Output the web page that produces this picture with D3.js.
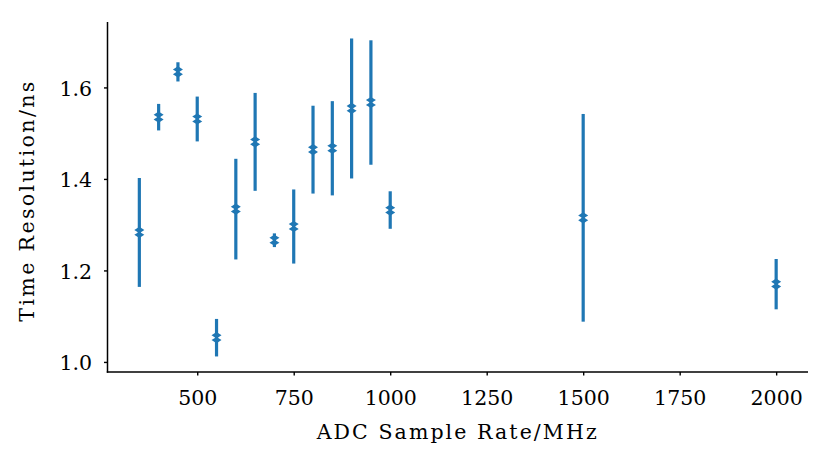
<!DOCTYPE html>
<html>
<head>
<meta charset="utf-8">
<script src="https://cdn.jsdelivr.net/npm/d3@7/dist/d3.min.js"></script>
<style>
  html, body { margin: 0; padding: 0; background: #fff; }
  svg { display: block; }
  text { font-family: "DejaVu Serif", "Liberation Serif", serif; fill: #000; }
</style>
</head>
<body>
<svg id="chart" width="830" height="465"></svg>
<script>
const sampleRates = [350, 400, 450, 500, 550, 600, 650, 700, 750, 800, 850, 900, 950, 1000, 1500, 2000];
const timeRes =     [1.283, 1.535, 1.634, 1.531, 1.053, 1.334, 1.481, 1.266, 1.296, 1.464, 1.467, 1.554, 1.567, 1.332, 1.315, 1.170];
const errors =      [0.119, 0.029, 0.021, 0.049, 0.041, 0.110, 0.107, 0.015, 0.081, 0.096, 0.103, 0.153, 0.136, 0.041, 0.227, 0.055];
const xTicks = [500, 750, 1000, 1250, 1500, 1750, 2000];
const yTicks = [1.0, 1.2, 1.4, 1.6];
const xLabel = "ADC Sample Rate/MHz";
const yLabel = "Time Resolution/ns";

const color = "#1f77b4";
const svg = d3.select("#chart");
const pLeft = 107.5, pRight = 808, pTop = 22, pBottom = 372;

const x = d3.scaleLinear().domain([267.5, 2082.5]).range([pLeft, pRight]);
const y = d3.scaleLinear().domain([0.978, 1.743]).range([pBottom, pTop]);

const data = sampleRates.map((r, i) => ({ r, v: timeRes[i], e: errors[i] }));

// error bars
svg.append("g").selectAll("line").data(data).join("line")
  .attr("x1", d => x(d.r)).attr("x2", d => x(d.r))
  .attr("y1", d => y(d.v + d.e)).attr("y2", d => y(d.v - d.e))
  .attr("stroke", color).attr("stroke-width", 3.2);

// markers (double small diamonds)
const mk = svg.append("g");
[-2.4, 2.4].forEach(off => {
  mk.append("g").selectAll("path").data(data).join("path")
    .attr("d", d => {
      const cx = x(d.r), cy = y(d.v) + off;
      return `M${cx - 5},${cy} L${cx},${cy - 3.2} L${cx + 5},${cy} L${cx},${cy + 3.2} Z`;
    })
    .attr("fill", color);
});

// axes
const xAxis = d3.axisBottom(x).tickValues(xTicks).tickSize(3.5).tickPadding(15).tickFormat(d3.format("d"));
const yAxis = d3.axisLeft(y).tickValues(yTicks).tickSize(3.5).tickPadding(12).tickFormat(d3.format(".1f"));

const gx = svg.append("g").attr("transform", `translate(0,${pBottom})`).call(xAxis);
const gy = svg.append("g").attr("transform", `translate(${pLeft},0)`).call(yAxis);
[gx, gy].forEach(g => {
  g.select(".domain").remove();
  g.selectAll(".tick line").attr("stroke", "#000").attr("stroke-width", 1.4);
  g.selectAll(".tick text").attr("font-size", 20.5).attr("font-family", "DejaVu Serif, Liberation Serif, serif")
    .attr("fill", "#000");
});
gx.selectAll(".tick text").attr("dy", "0.73em");
gy.selectAll(".tick text").attr("dy", "0.38em");

// spines
svg.append("line").attr("x1", pLeft).attr("x2", pLeft).attr("y1", pTop).attr("y2", pBottom + 0.7)
  .attr("stroke", "#000").attr("stroke-width", 1.5);
svg.append("line").attr("x1", pLeft - 0.7).attr("x2", pRight).attr("y1", pBottom).attr("y2", pBottom)
  .attr("stroke", "#000").attr("stroke-width", 1.5);

// labels
svg.append("text").attr("x", 456.7).attr("y", 439.3).attr("text-anchor", "middle")
  .attr("font-size", 20.5).attr("textLength", 280).attr("lengthAdjust", "spacing").text(xLabel);
svg.append("text").attr("transform", `translate(34,201.7) rotate(-90)`)
  .attr("text-anchor", "middle").attr("font-size", 20.5)
  .attr("textLength", 240).attr("lengthAdjust", "spacing").text(yLabel);
</script>
</body>
</html>
